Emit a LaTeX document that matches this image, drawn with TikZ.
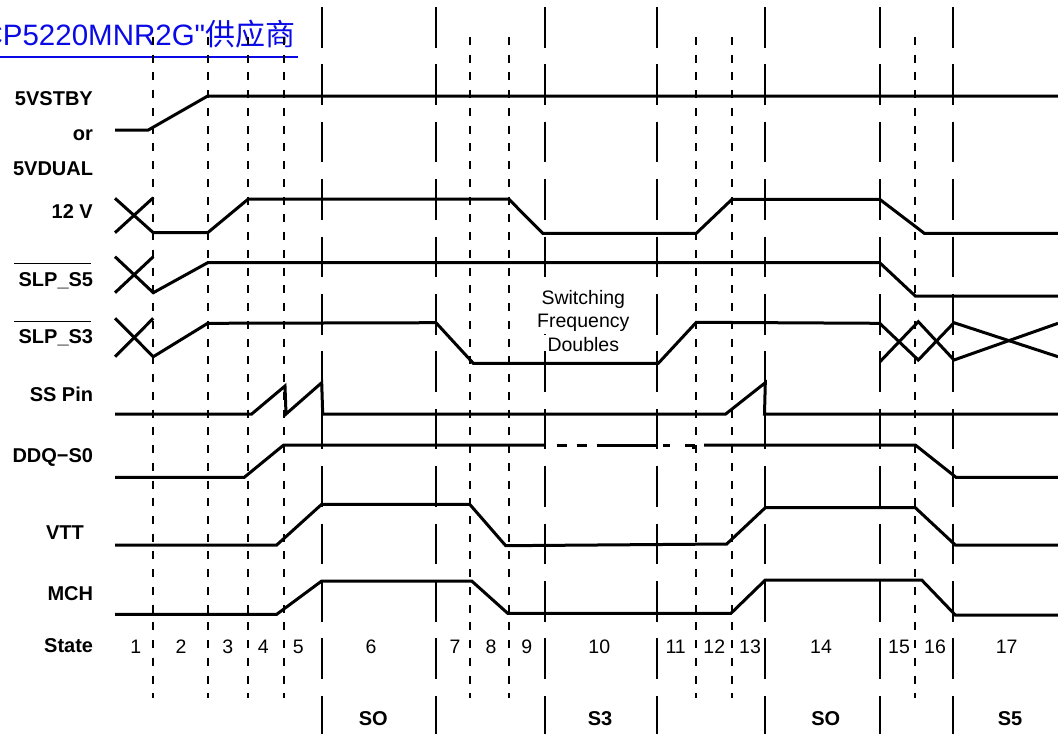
\documentclass[tikz,border=0pt]{standalone}
\usepackage{fontspec}
\setmainfont{Liberation Sans}
\newfontfamily\cjkfont{Noto Sans CJK SC}
\font\titlequotefont="Liberation Sans" at 29.5pt
\definecolor{titleblue}{RGB}{10,10,230}
\tikzset{
  sig/.style={line width=3pt, line cap=butt, line join=miter},
  longdash/.style={line width=2.2pt, dash pattern=on 40.5pt off 16.9pt},
  shortdash/.style={line width=2pt, dash pattern=on 8pt off 9.74pt},
  lab/.style={font=\fontsize{20}{24}\selectfont\bfseries, anchor=base east, inner sep=0pt},
  num/.style={font=\fontsize{19.5}{23}\selectfont, anchor=base, inner sep=0pt},
  bot/.style={font=\fontsize{20}{24}\selectfont\bfseries, anchor=base, inner sep=0pt},
  swtext/.style={num, fill=white, inner xsep=1pt, inner ysep=0pt, text height=17pt, text depth=6.6pt},
}
\begin{document}
\begin{tikzpicture}[x=1pt, y=-1pt]
\useasboundingbox (0,0) rectangle (1058,734);

% title
\node[anchor=base west, inner sep=0pt, text=titleblue, font=\fontsize{29.5}{31}\selectfont] (title) at (-18.6,45) {CP5220MNR2G{\titlequotefont\char"22}{\cjkfont\fontsize{30}{31}\selectfont 供应商}};
\draw[titleblue, line width=2pt] (0,56.7) -- (297.7,56.7);

% vertical grid lines
\foreach \x in {153.3,207.7,248.3,283.7,469.7,508.7,696.3,732,915.3}
  \draw[shortdash] (\x,37) -- (\x,698.3);
\foreach \x in {321.7,436,545,657,765.3,879.7,952.7}
  \draw[longdash] (\x,7) -- (\x,734);

% labels
\node[lab] (l5v) at (93,105) {5VSTBY};
\node[lab] (lor) at (93,140) {or};
\node[lab] (l5d) at (93.3,175) {5VDUAL};
\node[lab] (l12) at (93,218.3) {12 V};
\node[lab] (ls5) at (93.3,286.7) {SLP\_S5};
\draw[line width=1.5pt] (14,263.3) -- (90.7,263.3);
\node[lab] (ls3) at (93.3,343.3) {SLP\_S3};
\draw[line width=1.5pt] (14,321.7) -- (90.7,321.7);
\node[lab] (lss) at (93.3,401.7) {SS Pin};
\node[lab] (lddq) at (93.3,462.7) {DDQ−S0};
\node[lab] (lvtt) at (84,539.3) {VTT};
\node[lab] (lmch) at (93.3,600.7) {MCH};
\node[lab] (lstate) at (93.3,652.3) {State};

% state numbers
\foreach \x/\t [count=\i] in {135.7/1,181/2,227.7/3,263.3/4,298.3/5,371/6,455/7,491/8,526.7/9,599.3/10,675.7/11,714.3/12,750/13,821/14,899/15,935/16,1006.7/17}
  \node[num] (st\i) at (\x,653) {\t};

% bottom state labels
\node[bot] (b1) at (373.3,725) {SO};
\node[bot] (b2) at (600,725) {S3};
\node[bot] (b3) at (825.7,725) {SO};
\node[bot] (b4) at (1010,725) {S5};

% switching frequency text
\node[swtext] (sw1) at (583.3,304) {Switching};
\node[swtext] (sw2) at (583.3,327.7) {Frequency};
\node[swtext, text depth=1pt] (sw3) at (583.3,351) {Doubles};

% 5VSTBY
\draw[sig] (115,130) -- (148.3,130) -- (207.7,96) -- (1058,96);
% 12 V
\draw[sig] (115,198.3) -- (153.3,232.7) -- (207.7,232.7) -- (248.3,199) -- (508.7,199) -- (542.7,233.3) -- (696.3,233.3) -- (732,199.3) -- (879.7,199.3) -- (924.3,233.3) -- (1058,233.3);
\draw[sig] (115,232.7) -- (153.3,197.7);
% SLP_S5
\draw[sig] (115,256.7) -- (153.3,292.7) -- (207.7,262.7) -- (879.7,262.7) -- (915.3,296) -- (1058,296);
\draw[sig] (115,292.7) -- (153.3,256.7);
% SLP_S3
\draw[sig] (115,318.3) -- (153.3,356.7) -- (207.7,323.3) -- (436,322.7) -- (473.3,363.3) -- (658.3,363.3) -- (696.3,322.3) -- (879.7,323.3) -- (918.3,360) -- (954,322.7) -- (1058,356.7);
\draw[sig] (115,356.7) -- (153.3,318.3);
\draw[sig] (880,361.7) -- (918.3,321.7) -- (954,360) -- (1058,323.3);
% SS Pin
\draw[sig] (115,414) -- (251.7,414) -- (285,386) -- (286,414) -- (321.7,382.7) -- (322.7,414) -- (725.7,414) -- (765.3,382.7) -- (764.5,414) -- (1058,414);
% DDQ-S0
\draw[sig] (115,477.3) -- (244.3,477.3) -- (283.7,445) -- (545,445);
\draw[sig] (556.7,445) -- (567.3,445);
\draw[sig] (576.7,445) -- (587.3,445);
\draw[sig] (596.7,445) -- (656,445);
\draw[sig] (663,445) -- (670,445);
\draw[sig] (685,445) -- (693,445) -- (693,449);
\draw[sig] (704,445) -- (915.3,445) -- (956,477.3) -- (1058,477.3);
% VTT
\draw[sig] (115,545) -- (276.7,545) -- (321.7,504.3) -- (469.7,504.3) -- (505.7,545.7) -- (726.7,544) -- (765.3,507.7) -- (915.3,507.7) -- (955.3,545) -- (1058,545);
% MCH
\draw[sig] (115,614.3) -- (276.7,614.3) -- (321.7,581) -- (471.7,581) -- (507.7,613.3) -- (731,613.3) -- (765.3,580) -- (921.7,580) -- (955.3,615) -- (1058,615);
\end{tikzpicture}
\end{document}
